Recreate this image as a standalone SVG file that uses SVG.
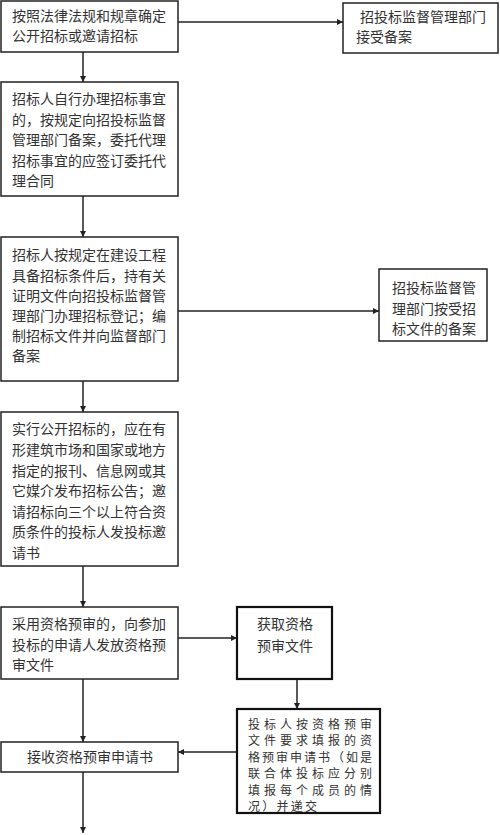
<svg xmlns="http://www.w3.org/2000/svg" width="500" height="835" viewBox="0 0 500 835">
<defs>
<style>
.box{fill:#fff;stroke:#222;stroke-width:1.5}
.bold{fill:#fff;stroke:#111;stroke-width:2.2}
.t{font-family:"Noto Sans CJK SC","Noto Sans CJK JP",sans-serif;font-size:14px;fill:#333;dominant-baseline:central}
.s{font-family:"Noto Sans CJK SC","Noto Sans CJK JP",sans-serif;font-size:12px;fill:#333;dominant-baseline:central}
.c{fill:none;stroke:#222;stroke-width:1.5}
</style>
<marker id="ah" viewBox="0 0 10 10" refX="10" refY="5" markerWidth="6" markerHeight="6" orient="auto" markerUnits="userSpaceOnUse">
<path d="M0,0 L10,5 L0,10 z" fill="#222"/>
</marker>
</defs>
<rect width="500" height="835" fill="#fff"/>
<g id="connectors">
<path class="c" d="M83,52 V82" marker-end="url(#ah)"/>
<path class="c" d="M170,22 H343" marker-end="url(#ah)"/>
<path class="c" d="M83,196 V237" marker-end="url(#ah)"/>
<path class="c" d="M170,311 H379" marker-end="url(#ah)"/>
<path class="c" d="M83,381 V412" marker-end="url(#ah)"/>
<path class="c" d="M83,566 V607" marker-end="url(#ah)"/>
<path class="c" d="M178,638 H237" marker-end="url(#ah)"/>
<path class="c" d="M297,679 V709" marker-end="url(#ah)"/>
<path class="c" d="M237,752 H178" marker-end="url(#ah)"/>
<path class="c" d="M83,679 V742" marker-end="url(#ah)"/>
<path class="c" d="M83,772 V833" marker-end="url(#ah)"/>
</g>
<g id="n1">
<rect class="box" x="1" y="1" width="177" height="51"/>
<text class="t" x="12" y="15">按照法律法规和规章确定</text>
<text class="t" x="12" y="35">公开招标或邀请招标</text>
</g>
<g id="n2">
<rect class="box" x="343" y="3" width="155" height="50"/>
<text class="t" x="360" y="16">招投标监督管理部门</text>
<text class="t" x="356" y="36">接受备案</text>
</g>
<g id="n3">
<rect class="box" x="1" y="82" width="177" height="114"/>
<text class="t" x="12" y="98">招标人自行办理招标事宜</text>
<text class="t" x="12" y="118.5">的，按规定向招投标监督</text>
<text class="t" x="12" y="139">管理部门备案，委托代理</text>
<text class="t" x="12" y="159.5">招标事宜的应签订委托代</text>
<text class="t" x="12" y="180">理合同</text>
</g>
<g id="n4">
<rect class="box" x="1" y="237" width="177" height="144"/>
<text class="t" x="12" y="254">招标人按规定在建设工程</text>
<text class="t" x="12" y="274.5">具备招标条件后，持有关</text>
<text class="t" x="12" y="295">证明文件向招投标监督管</text>
<text class="t" x="12" y="315">理部门办理招标登记；编</text>
<text class="t" x="12" y="335">制招标文件并向监督部门</text>
<text class="t" x="12" y="355">备案</text>
</g>
<g id="n5">
<rect class="box" x="379" y="269" width="108" height="72"/>
<text class="t" x="392" y="287">招投标监督管</text>
<text class="t" x="392" y="307.5">理部门按受招</text>
<text class="t" x="392" y="328">标文件的备案</text>
</g>
<g id="n6">
<rect class="box" x="1" y="412" width="177" height="154"/>
<text class="t" x="12" y="428">实行公开招标的，应在有</text>
<text class="t" x="12" y="449">形建筑市场和国家或地方</text>
<text class="t" x="12" y="469.5">指定的报刊、信息网或其</text>
<text class="t" x="12" y="490">它媒介发布招标公告；邀</text>
<text class="t" x="12" y="510.5">请招标向三个以上符合资</text>
<text class="t" x="12" y="531">质条件的投标人发投标邀</text>
<text class="t" x="12" y="551.5">请书</text>
</g>
<g id="n7">
<rect class="box" x="1" y="607" width="177" height="72"/>
<text class="t" x="12" y="623">采用资格预审的，向参加</text>
<text class="t" x="12" y="643.5">投标的申请人发放资格预</text>
<text class="t" x="12" y="664">审文件</text>
</g>
<g id="n8">
<rect class="bold" x="237" y="607" width="95" height="72"/>
<text class="t" x="285" y="623" text-anchor="middle">获取资格</text>
<text class="t" x="285" y="645" text-anchor="middle">预审文件</text>
</g>
<g id="n9">
<rect class="bold" x="237" y="709" width="143" height="104"/>
<text class="s" x="248" y="723" textLength="124" lengthAdjust="spacing">投标人按资格预审</text>
<text class="s" x="248" y="739.5" textLength="124" lengthAdjust="spacing">文件要求填报的资</text>
<text class="s" x="248" y="756" textLength="124" lengthAdjust="spacing">格预审申请书（如是</text>
<text class="s" x="248" y="772.5" textLength="124" lengthAdjust="spacing">联合体投标应分别</text>
<text class="s" x="248" y="789" textLength="124" lengthAdjust="spacing">填报每个成员的情</text>
<text class="s" x="248" y="805" textLength="69" lengthAdjust="spacing">况）并递交</text>
</g>
<g id="n10">
<rect class="box" x="1" y="742" width="177" height="30"/>
<text class="t" x="27" y="756">接收资格预审申请书</text>
</g>
</svg>
